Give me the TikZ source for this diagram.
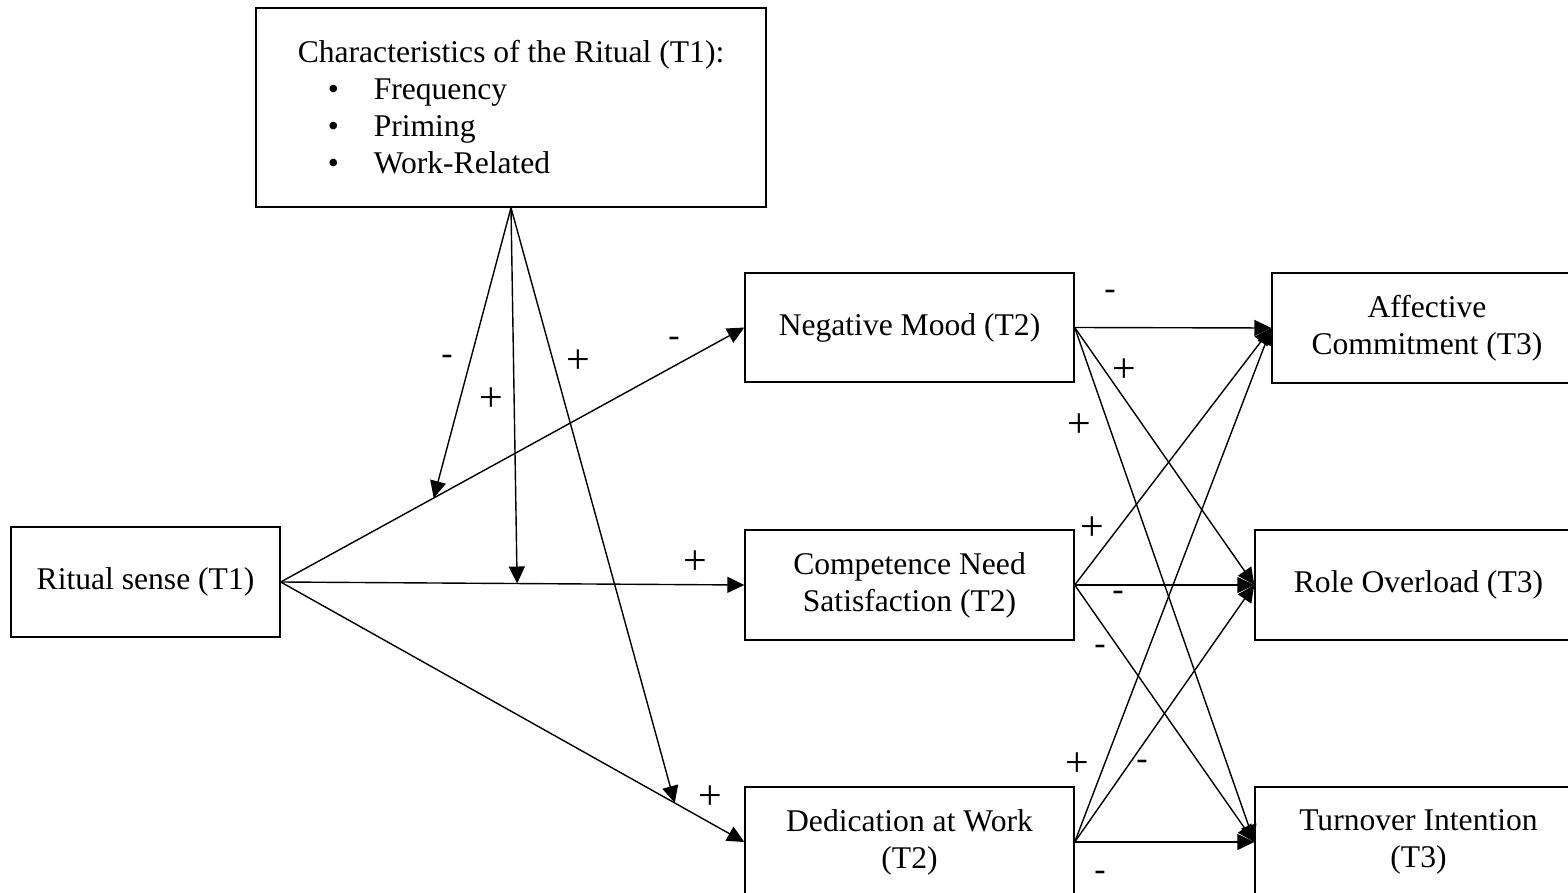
\documentclass[tikz,border=0pt]{standalone}
\usepackage{fontspec}
\setmainfont{Liberation Serif}
\usetikzlibrary{arrows.meta, calc}

\begin{document}
\begin{tikzpicture}[x=0.5pt, y=-0.5pt,
    box/.style={draw, line width=0.7pt, align=center, inner sep=0pt,
                font=\fontsize{15.8}{18.5}\selectfont},
    arrow/.style={-{Triangle[length=8.5pt, width=8pt]}, line width=0.7pt},
    plus/.style={font=\fontsize{21}{23}\selectfont, inner sep=0pt},
    minus/.style={font=\fontsize{17}{19}\selectfont, inner sep=0pt}]

    \clip (0, 0) rectangle (1568, 893);

    % Moderator
    \node[box, align=left, minimum width=255pt, minimum height=99.5pt] (char) at (511, 107.5)
        {Characteristics of the Ritual (T1):\\
         \hspace*{15pt}\makebox[23pt][l]{•}Frequency\\
         \hspace*{15pt}\makebox[23pt][l]{•}Priming\\
         \hspace*{15pt}\makebox[23pt][l]{•}Work-Related};

    % Predictor
    \node[box, minimum width=134.5pt, minimum height=55pt] (rit) at (145.5, 582) {Ritual sense (T1)};

    % Mediators (T2)
    \node[box, minimum width=164.5pt, minimum height=54.5pt] (neg) at (909.5, 327.5) {Negative Mood (T2)};
    \node[box, minimum width=164.5pt, minimum height=55pt] (comp) at (909.5, 585) {Competence Need\\Satisfaction (T2)};
    \node[box, minimum width=164.5pt, minimum height=55pt] (ded) at (909.5, 842) {Dedication at Work\\(T2)};

    % Outcomes (T3)
    \node[box, minimum width=155pt, minimum height=55pt] (aff) at (1427, 328) {Affective\\Commitment (T3)};
    \node[box, minimum width=163.5pt, minimum height=55pt] (role) at (1418.5, 585) {Role Overload (T3)};
    \node[box, minimum width=163.5pt, minimum height=55pt] (turn) at (1418.5, 842) {Turnover Intention\\(T3)};

    % Ritual sense -> mediators
    \draw[arrow] (rit.east) -- (neg.west);
    \draw[arrow] (rit.east) -- (comp.west);
    \draw[arrow] (rit.east) -- (ded.west);

    % Moderation
    \coordinate (m1) at ($(rit.east)!0.33!(neg.west)$);
    \coordinate (m2) at ($(rit.east)!0.51!(comp.west)$);
    \coordinate (m3) at ($(rit.east)!0.85!(ded.west)$);
    \draw[arrow] (char.south) -- (m1);
    \draw[arrow] (char.south) -- (m2);
    \draw[arrow] (char.south) -- (m3);

    % Mediators -> outcomes
    \foreach \src in {neg, comp, ded} {
        \foreach \dst in {aff, role, turn} {
            \draw[arrow] (\src.east) -- (\dst.west);
        }
    }

    % Signs
    \node[minus] (s1) at (447, 360) {-};
    \node[plus] (s2) at (491, 400) {+};
    \node[plus] (s3) at (578, 362) {+};
    \node[minus] (s4) at (674, 342) {-};
    \node[plus] (s5) at (695, 563) {+};
    \node[plus] (s6) at (710, 798) {+};
    \node[minus] (s7) at (1110, 295) {-};
    \node[plus] (s8) at (1124, 371) {+};
    \node[plus] (s9) at (1079, 426) {+};
    \node[plus] (s10) at (1092, 529) {+};
    \node[minus] (s11) at (1118, 596) {-};
    \node[minus] (s12) at (1100, 650) {-};
    \node[plus] (s13) at (1077, 765) {+};
    \node[minus] (s14) at (1142, 765) {-};
    \node[minus] (s15) at (1100, 876) {-};

\end{tikzpicture}
\end{document}
